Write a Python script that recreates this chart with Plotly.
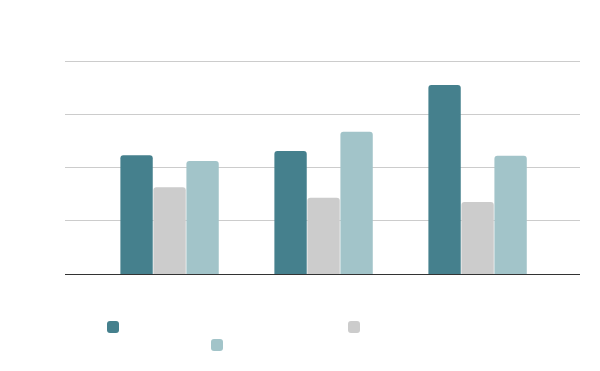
import plotly.graph_objects as go

categories = ["A", "B", "C"]
series_names = ["", "", ""]
dark_vals = [2.23, 2.31, 3.55]
gray_vals = [1.63, 1.43, 1.35]
light_vals = [2.12, 2.67, 2.22]
colors = ["#45808D", "#CCCCCC", "#A2C4C9"]

fig = go.Figure()
fig.add_trace(go.Bar(x=categories, y=dark_vals, name=series_names[0], marker_color=colors[0],
                     marker_line_width=0, legend="legend"))
fig.add_trace(go.Bar(x=categories, y=gray_vals, name=series_names[1], marker_color=colors[1],
                     marker_line_width=0, legend="legend2"))
fig.add_trace(go.Bar(x=categories, y=light_vals, name=series_names[2], marker_color=colors[2],
                     marker_line_width=0, legend="legend3"))

def leg(x, y):
    return dict(orientation="h", xref="container", yref="container",
                x=x / 600, y=1 - y / 371, xanchor="left", yanchor="top",
                bgcolor="rgba(0,0,0,0)")

fig.update_layout(
    width=600, height=371,
    margin=dict(l=57, r=28, t=52, b=105, autoexpand=False),
    paper_bgcolor="white", plot_bgcolor="white",
    barmode="group", bargap=0.357, bargroupgap=0.02,
    barcornerradius=3,
    font=dict(family="Roboto", size=12, color="#333"),
    xaxis=dict(range=[-0.679, 2.665], showticklabels=False, showgrid=False,
               showline=False, ticks="", zeroline=False),
    yaxis=dict(range=[0, 4.019], dtick=1, showticklabels=False, showgrid=True,
               gridcolor="#CCCCCC", gridwidth=1, zeroline=True, zerolinecolor="#333333",
               zerolinewidth=1, ticks=""),
    legend=leg(85, 304.5),
    legend2=leg(326, 304.5),
    legend3=leg(189, 322.5),
    showlegend=True,
)

fig.write_html("out.html")
